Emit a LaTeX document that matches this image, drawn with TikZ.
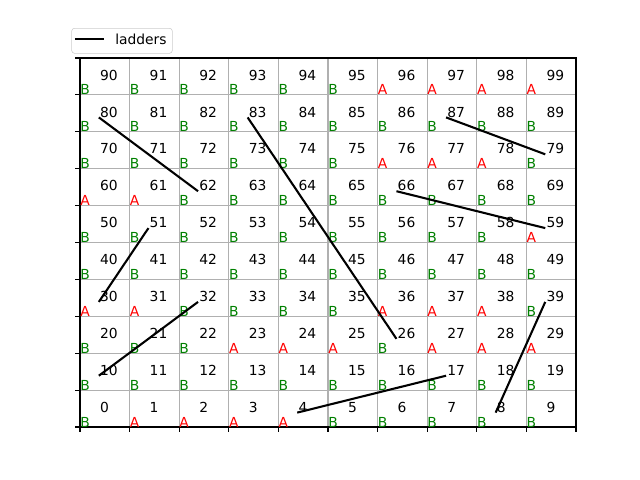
\documentclass[tikz,border=0pt]{standalone}
\usepackage{fontspec}
\setmainfont{DejaVu Sans}
\definecolor{mplgreen}{HTML}{008000}
\definecolor{gridgray}{HTML}{B0B0B0}
\definecolor{legendgray}{HTML}{CCCCCC}
\tikzset{
  cellnum/.style={anchor=base west, inner sep=0pt, font=\fontsize{10}{12}\selectfont},
  letA/.style={cellnum, text=red},
  letB/.style={cellnum, text=mplgreen},
  ladder/.style={line width=1.5pt, black},
  axisline/.style={line width=0.8pt, black},
  gridline/.style={line width=0.8pt, gridgray},
}
\begin{document}
\begin{tikzpicture}[x=0.496in, y=0.369in]
\useasboundingbox (-0.80in,-0.53in) rectangle (5.60in,4.27in);
\foreach \k in {0,...,10} {
  \draw[gridline] (\k,0) -- (\k,10);
  \draw[gridline] (0,\k) -- (10,\k);
  \draw[axisline] (\k,0) -- ++(0pt,-3.5pt);
  \draw[axisline] (0,\k) -- ++(-3.5pt,0pt);
}
\draw[axisline] (0,0) rectangle (10,10);
\foreach \i in {0,...,99} {
  \pgfmathtruncatemacro{\c}{mod(\i,10)}
  \pgfmathtruncatemacro{\r}{div(\i,10)}
  \node[cellnum] (n\i) at (\c+0.4,\r+0.4) {\i};
  \coordinate (l\i) at (\c+0.38,\r+0.39);
}
\foreach \l [count=\c from 0] in {B,A,A,A,A,B,B,B,B,B} \node[let\l] (t0\c) at (\c,0) {\l};
\foreach \l [count=\c from 0] in {B,B,B,B,B,B,B,B,B,B} \node[let\l] (t1\c) at (\c,1) {\l};
\foreach \l [count=\c from 0] in {B,B,B,A,A,A,B,A,A,A} \node[let\l] (t2\c) at (\c,2) {\l};
\foreach \l [count=\c from 0] in {A,A,B,B,B,B,A,A,A,B} \node[let\l] (t3\c) at (\c,3) {\l};
\foreach \l [count=\c from 0] in {B,B,B,B,B,B,B,B,B,B} \node[let\l] (t4\c) at (\c,4) {\l};
\foreach \l [count=\c from 0] in {B,B,B,B,B,B,B,B,B,A} \node[let\l] (t5\c) at (\c,5) {\l};
\foreach \l [count=\c from 0] in {A,A,B,B,B,B,B,B,B,B} \node[let\l] (t6\c) at (\c,6) {\l};
\foreach \l [count=\c from 0] in {B,B,B,B,B,B,A,A,A,B} \node[let\l] (t7\c) at (\c,7) {\l};
\foreach \l [count=\c from 0] in {B,B,B,B,B,B,B,B,B,B} \node[let\l] (t8\c) at (\c,8) {\l};
\foreach \l [count=\c from 0] in {B,B,B,B,B,B,A,A,A,A} \node[let\l] (t9\c) at (\c,9) {\l};
\draw[ladder] (l80) -- (l62);
\draw[ladder] (l83) -- (l26);
\draw[ladder] (l87) -- (l79);
\draw[ladder] (l66) -- (l59);
\draw[ladder] (l51) -- (l30);
\draw[ladder] (l32) -- (l10);
\draw[ladder] (l39) -- (l8);
\draw[ladder] (l17) -- (l4);
\draw[legendgray, rounded corners=2pt, fill=white] (-0.083in,3.737in) rectangle (0.923in,3.987in);
\coordinate (legA) at (-0.05in,3.88in);
\coordinate (legB) at (0.243in,3.88in);
\draw[ladder] (legA) -- (legB);
\node[cellnum] (legtext) at (0.35in,3.82in) {ladders};
\end{tikzpicture}
\end{document}
